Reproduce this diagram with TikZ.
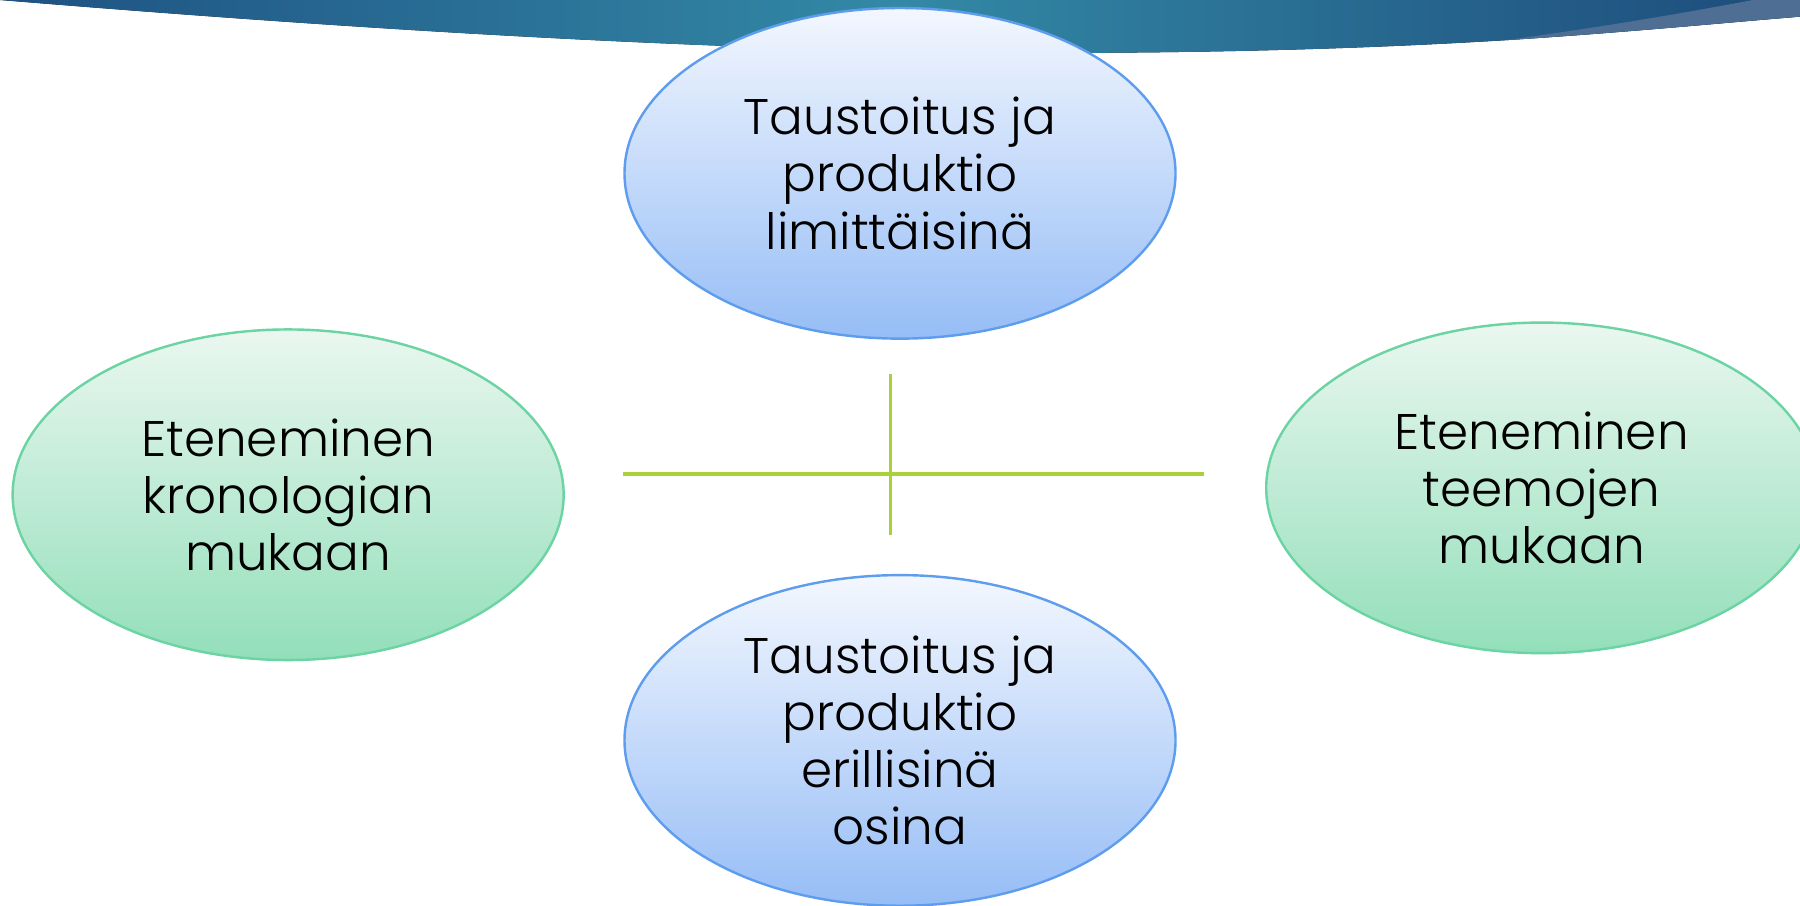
\documentclass[tikz,border=0pt]{standalone}
\usepackage{fontspec}
\setmainfont{Poppins Light}
\usetikzlibrary{shapes.geometric}
\definecolor{bandleft}{HTML}{1E5283}
\definecolor{bandmid}{HTML}{3389A6}
\definecolor{bandright}{HTML}{1D4B7B}
\definecolor{swoosh}{HTML}{4E6E94}
\definecolor{blueline}{HTML}{5E9DEE}
\definecolor{bluetop}{HTML}{F3F7FE}
\definecolor{bluebot}{HTML}{96BDF6}
\definecolor{greenline}{HTML}{6CD3A2}
\definecolor{greentop}{HTML}{EAF7F0}
\definecolor{greenbot}{HTML}{93DFBA}
\definecolor{crossline}{HTML}{A9D13A}
\begin{document}
\begin{tikzpicture}[
		bluebox/.style={draw=blueline, line width=0.6pt, ellipse, top color=bluetop, bottom color=bluebot, minimum width=4.8cm, minimum height=2.88cm, inner sep=0pt, align=center, font=\fontsize{12.4}{14.2}\selectfont},
		greenbox/.style={bluebox, draw=greenline, top color=greentop, bottom color=greenbot},
		cross/.style={draw=crossline, line width=0.8pt}
	]
	\useasboundingbox (0,0) rectangle (15.68,7.89);
	\fill [left color=bandleft, right color=bandright, middle color=bandmid] (0,7.89) -- (15.68,7.89) -- (15.68,7.745) .. controls (15,7.69) and (14.2,7.61) .. (13.12,7.54) .. controls (12.3,7.49) and (11.2,7.44) .. (9.6,7.43) .. controls (7,7.42) and (4,7.56) .. (0,7.89) -- cycle;
	\fill [swoosh] (15.68,7.745) .. controls (15,7.69) and (14.2,7.61) .. (13.12,7.54) .. controls (14.2,7.69) and (14.9,7.82) .. (15.27,7.89) -- (15.68,7.89) -- cycle;

	\coordinate (hl) at (5.43,3.76);
	\coordinate (hr) at (10.49,3.76);
	\coordinate (vt) at (7.76,4.63);
	\coordinate (vb) at (7.76,3.23);
	\draw [cross] (hl) -- (hr);
	\draw [cross] (vt) -- (vb);

	\node [bluebox] (limit) at (7.84,6.38) {Taustoitus ja\\produktio\\limittäisinä};
	\node [bluebox] (erill) at (7.84,1.44) {Taustoitus ja\\produktio\\erillisinä\\osina};
	\node [greenbox] (krono) at (2.51,3.58) {Eteneminen\\kronologian\\mukaan};
	\node [greenbox] (teema) at (13.43,3.64) {Eteneminen\\teemojen\\mukaan};
\end{tikzpicture}
\end{document}
